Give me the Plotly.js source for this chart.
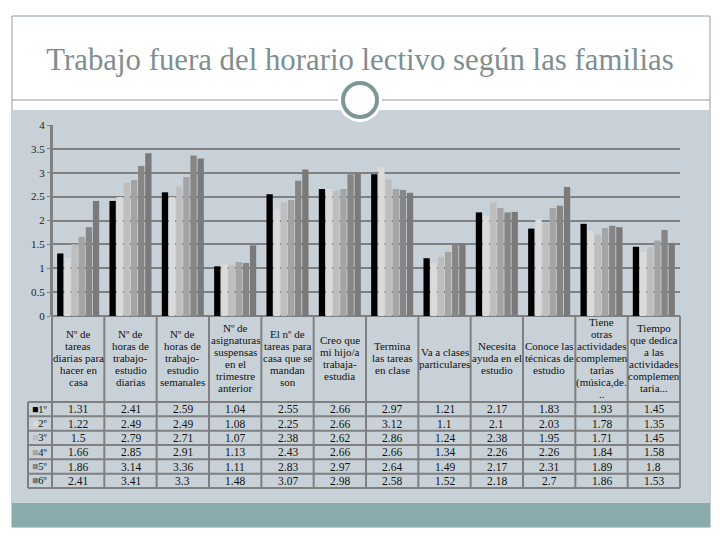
<!DOCTYPE html>
<html><head><meta charset="utf-8">
<script src="https://cdn.plot.ly/plotly-3.0.1.min.js"></script>
<style>html,body{margin:0;padding:0;background:#fff}#c{width:720px;height:540px}</style>
</head><body><div id="c"></div>
<script>
const categories = [
  "Nº de<br>tareas<br>diarias para<br>hacer en<br>casa",
  "Nº de<br>horas de<br>trabajo-<br>estudio<br>diarias",
  "Nº de<br>horas de<br>trabajo-<br>estudio<br>semanales",
  "Nº de<br>asignaturas<br>suspensas<br>en el<br>trimestre<br>anterior",
  "El nº de<br>tareas para<br>casa que se<br>mandan<br>son",
  "Creo que<br>mi hijo/a<br>trabaja-<br>estudia",
  "Termina<br>las tareas<br>en clase",
  "Va a clases<br>particulares",
  "Necesita<br>ayuda en el<br>estudio",
  "Conoce las<br>técnicas de<br>estudio",
  "Tiene<br>otras<br>actividades<br>complemen<br>tarias<br>(música,de.<br>..",
  "Tiempo<br>que dedica<br>a las<br>actividades<br>complemen<br>taria..."
];
const seriesNames = ["1º","2º","3º","4º","5º","6º"];
const s1 = [1.31,2.41,2.59,1.04,2.55,2.66,2.97,1.21,2.17,1.83,1.93,1.45];
const s2 = [1.22,2.49,2.49,1.08,2.25,2.66,3.12,1.1,2.1,2.03,1.78,1.35];
const s3 = [1.5,2.79,2.71,1.07,2.38,2.62,2.86,1.24,2.38,1.95,1.71,1.45];
const s4 = [1.66,2.85,2.91,1.13,2.43,2.66,2.66,1.34,2.26,2.26,1.84,1.58];
const s5 = [1.86,3.14,3.36,1.11,2.83,2.97,2.64,1.49,2.17,2.31,1.89,1.8];
const s6 = [2.41,3.41,3.3,1.48,3.07,2.98,2.58,1.52,2.18,2.7,1.86,1.53];
const yTicks = [0,0.5,1,1.5,2,2.5,3,3.5,4];
const titleText = "Trabajo fuera del horario lectivo según las familias";

const series = [s1,s2,s3,s4,s5,s6];
const colors = ["#000000","#dadada","#bebebe","#a4a4a4","#868686","#7a7a7a"];

const W = 720, H = 540;
const px = x => x / W;
const py = y => 1 - y / H;

const plotL = 52, plotR = 680, plotT = 125, plotB = 316;
const tableHeadB = 402, rowH = (488 - 402) / 6, tableL = 28;
const gridC = "#808080";
const SERIF = "Liberation Serif";

const traces = series.map((s, i) => ({
  type: "bar", name: seriesNames[i], x: categories, y: s,
  marker: {color: colors[i], line: {width: 0}}, showlegend: false,
  hoverinfo: "skip"
}));

const shapes = [];
shapes.push({type:"rect", xref:"paper", yref:"paper", x0:px(12), x1:px(710), y0:py(527), y1:py(16),
  fillcolor:"#ffffff", line:{color:"#8d9c9c", width:1}, layer:"below"});
shapes.push({type:"rect", xref:"paper", yref:"paper", x0:px(12), x1:px(709), y0:py(503), y1:py(110),
  fillcolor:"#c7d1d7", line:{width:0}, layer:"below"});
shapes.push({type:"rect", xref:"paper", yref:"paper", x0:px(12), x1:px(710), y0:py(527), y1:py(503),
  fillcolor:"#8aabab", line:{width:0}, layer:"below"});
shapes.push({type:"line", xref:"paper", yref:"paper", x0:px(12), x1:px(710), y0:py(100), y1:py(100),
  line:{color:"#8d9c9c", width:1}, layer:"below"});
shapes.push({type:"circle", xref:"paper", yref:"paper", x0:px(338), x1:px(382), y0:py(122), y1:py(78),
  fillcolor:"#ffffff", line:{width:0}, layer:"below"});
shapes.push({type:"circle", xref:"paper", yref:"paper", x0:px(343), x1:px(377), y0:py(117), y1:py(83),
  fillcolor:"#ffffff", line:{color:"#7f9696", width:4}, layer:"below"});

const n = categories.length;
const colW = (plotR - plotL) / n;
for (let k = 0; k <= n; k++) {
  const xx = plotL + k * colW;
  shapes.push({type:"line", xref:"paper", yref:"paper", x0:px(xx), x1:px(xx),
    y0:py(k === 0 ? plotT : plotB), y1:py(488), line:{color:gridC, width:2}});
}
shapes.push({type:"line", xref:"paper", yref:"paper", x0:px(tableL), x1:px(tableL),
  y0:py(tableHeadB), y1:py(488), line:{color:gridC, width:2}});
for (let r = 0; r <= 6; r++) {
  const yy = tableHeadB + r * rowH;
  shapes.push({type:"line", xref:"paper", yref:"paper", x0:px(tableL), x1:px(plotR),
    y0:py(yy), y1:py(yy), line:{color:gridC, width:2}});
}

const annotations = [];
const headFont = {family:SERIF, size:11, color:"#111"};
const numFont = {family:SERIF, size:11.5, color:"#111"};
const headCenter = 358, headStep = 12;
categories.forEach((c, i) => {
  const lines = c.split("<br>");
  lines.forEach((ln, k) => {
    annotations.push({xref:"x", yref:"paper", x:c,
      y:py(headCenter + (k - (lines.length - 1) / 2) * headStep), text:ln, showarrow:false,
      xanchor:"center", yanchor:"middle", align:"center", font:headFont});
  });
  series.forEach((s, j) => {
    annotations.push({xref:"x", yref:"paper", x:c, y:py(tableHeadB + (j + 0.5) * rowH),
      text:String(s[i]), showarrow:false, xanchor:"center", yanchor:"middle", font:numFont});
  });
});
seriesNames.forEach((nm, j) => {
  annotations.push({xref:"paper", yref:"paper", x:px(30), y:py(tableHeadB + (j + 0.5) * rowH),
    text:'<span style="color:' + colors[j] + '">■</span>' + nm, showarrow:false,
    xanchor:"left", yanchor:"middle", font:{family:SERIF, size:10.5, color:"#111"}});
});

const layout = {
  width: W, height: H,
  margin: {l:0, r:0, t:0, b:0},
  paper_bgcolor: "#ffffff", plot_bgcolor: "rgba(0,0,0,0)",
  title: {text: titleText, x: 0.5, xanchor: "center", y: py(59), yanchor: "middle",
    font: {family: SERIF, size: 30.8, color: "#7f8e8e"}},
  barmode: "group", bargap: 0.18, bargroupgap: 0.12,
  xaxis: {domain:[px(plotL), px(plotR)], type:"category", range:[-0.5, n - 0.5],
    showticklabels:false, showgrid:false, zeroline:false, showline:false, fixedrange:true},
  yaxis: {domain:[py(plotB), py(plotT)], range:[0,4], tickvals:yTicks,
    ticktext: yTicks.map(String),
    showgrid:true, gridcolor:gridC, gridwidth:2, zeroline:true, zerolinecolor:gridC, zerolinewidth:2,
    showline:true, linecolor:gridC, linewidth:2, ticks:"outside", ticklen:3, tickcolor:gridC,
    tickfont:{family:SERIF, size:11, color:"#222"}, fixedrange:true},
  shapes: shapes,
  annotations: annotations,
  showlegend: false
};

Plotly.newPlot("c", traces, layout, {displayModeBar:false, staticPlot:true});
</script>
</body></html>
